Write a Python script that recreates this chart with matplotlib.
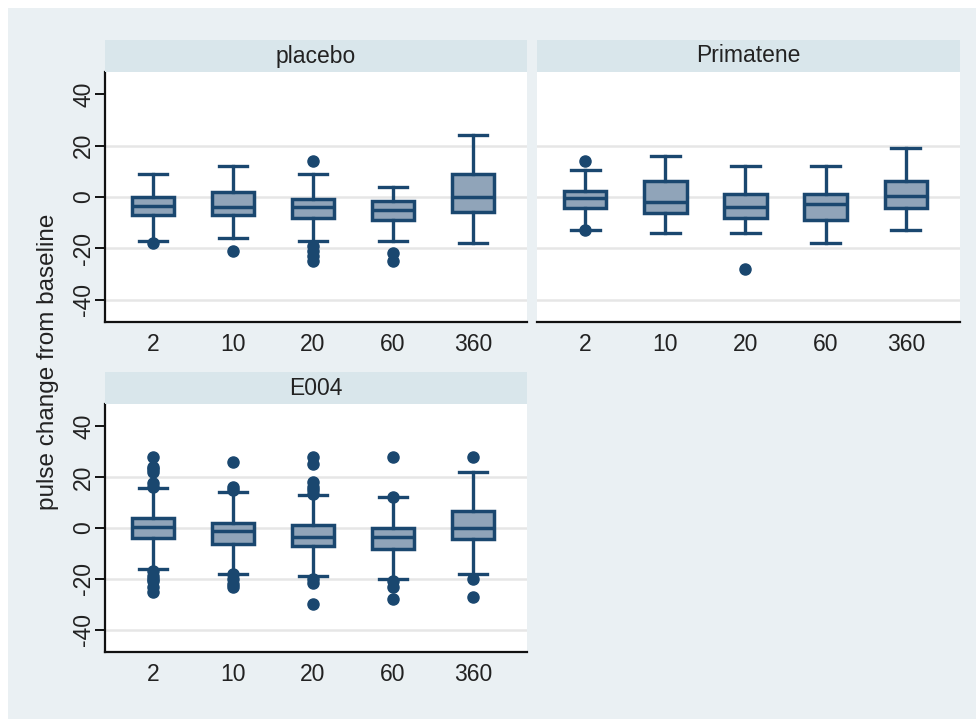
import matplotlib
matplotlib.use("Agg")
import matplotlib.pyplot as plt
from matplotlib.patches import Rectangle

plt.rcParams['font.family'] = ['Liberation Sans', 'DejaVu Sans']

# time points (minutes) on the x axis
times = ["2", "10", "20", "60", "360"]

# five-number summaries per treatment: lower whisker, Q1, median, Q3, upper whisker
placebo_whislo = [-17, -16, -17, -17, -18]
placebo_q1 = [-7, -7, -8, -9, -6]
placebo_med = [-3.6, -3.9, -3.9, -4.9, 0]
placebo_q3 = [0, 2, -0.7, -1.5, 9]
placebo_whishi = [9, 12, 9, 4, 24]
placebo_out = [[-18], [-21], [14, -19, -21, -23, -25], [-22, -25], []]

primatene_whislo = [-13, -14, -14, -18, -13]
primatene_q1 = [-4.1, -6.2, -8.3, -9, -4.3]
primatene_med = [-0.4, -2.1, -3.9, -2.7, 0.5]
primatene_q3 = [2.2, 6.3, 1.2, 1.2, 6.3]
primatene_whishi = [10.5, 16, 12, 12, 19]
primatene_out = [[14, -13], [], [-28], [], []]

e004_whislo = [-16, -18, -19, -20, -18]
e004_q1 = [-4, -6.2, -7.2, -8.3, -4.3]
e004_med = [0.3, -1.2, -3.7, -3.7, 0]
e004_q3 = [4.1, 2, 1.2, 0, 6.7]
e004_whishi = [15.7, 14, 13, 12, 22]
e004_out = [[28, 24, 23, 22, 17.5, 16, -17, -19, -20, -21, -23, -25],
            [26, 16, 15, -18, -20, -22, -23],
            [28, 25, 18, 16, 15, 13.5, -20, -21.5, -30],
            [28, 12, -21, -23, -28],
            [28, -20, -27]]

panel_titles = ["placebo", "Primatene", "E004"]
yticks = [-40, -20, 0, 20, 40]

NAVY = "#1a476f"
FILL = "#90a4b9"
GRID = "#e6e6e6"
STRIP = "#d9e6eb"
BG = "#eaf0f3"
TXT = "#222222"
FS = 16.5

W, H = 976, 719
fig = plt.figure(figsize=(W / 100, H / 100), dpi=100)
fig.patch.set_facecolor("white")
fig.patches.append(Rectangle((8 / W, 0), 1 - 8 / W, 1 - 8 / H, transform=fig.transFigure,
                             facecolor=BG, edgecolor="none", zorder=-10))


def px_rect(x0, y0, x1, y1):
    return [x0 / W, 1 - y1 / H, (x1 - x0) / W, (y1 - y0) / H]


panels = [
    (placebo_whislo, placebo_q1, placebo_med, placebo_q3, placebo_whishi, placebo_out),
    (primatene_whislo, primatene_q1, primatene_med, primatene_q3, primatene_whishi, primatene_out),
    (e004_whislo, e004_q1, e004_med, e004_q3, e004_whishi, e004_out),
]
boxes_px = [(105, 72, 527, 322), (537, 72, 960, 322), (105, 404, 527, 652)]
show_y = [True, False, True]

for (lo, q1, med, q3, hi, out), (x0, y0, x1, y1), title, sy in zip(panels, boxes_px, panel_titles, show_y):
    ax = fig.add_axes(px_rect(x0, y0, x1, y1))
    ax.set_facecolor("white")
    stats = []
    for i in range(len(times)):
        stats.append(dict(whislo=lo[i], q1=q1[i], med=med[i], q3=q3[i], whishi=hi[i],
                          fliers=out[i], label=times[i]))
    ax.bxp(stats, positions=range(1, len(times) + 1), widths=0.53, capwidths=0.36,
           patch_artist=True, showfliers=True,
           boxprops=dict(facecolor=FILL, edgecolor=NAVY, linewidth=2.5),
           medianprops=dict(color=NAVY, linewidth=2.5),
           whiskerprops=dict(color=NAVY, linewidth=2.4),
           capprops=dict(color=NAVY, linewidth=2.4),
           flierprops=dict(marker="o", markerfacecolor=NAVY, markeredgecolor=NAVY,
                           markersize=8, linestyle="none"))
    ax.set_xlim(0.4, 5.675)
    ax.set_ylim(-48.7, 48.7)
    for g in [-40, -20, 0, 20]:
        ax.axhline(g, color=GRID, linewidth=1.8, zorder=0)
    for s in ["top", "right"]:
        ax.spines[s].set_visible(False)
    ax.spines["bottom"].set_color("#111111")
    ax.spines["bottom"].set_linewidth(1.6)
    ax.tick_params(axis="x", length=0, pad=8, labelsize=FS, labelcolor=TXT)
    if sy:
        ax.spines["left"].set_color("#111111")
        ax.spines["left"].set_linewidth(1.6)
        ax.set_yticks(yticks)
        ax.set_yticklabels([str(v) for v in yticks], rotation=90, va="center")
        ax.tick_params(axis="y", length=7, width=1.4, color="#111111", pad=0,
                       labelsize=FS, labelcolor=TXT)
    else:
        ax.spines["left"].set_visible(False)
        ax.set_yticks([])
    # strip header above the panel
    sax = fig.add_axes(px_rect(x0, y0 - 32, x1, y0))
    sax.set_facecolor(STRIP)
    sax.set_xticks([])
    sax.set_yticks([])
    for s in sax.spines.values():
        s.set_visible(False)
    sax.text(0.5, 0.5, title, ha="center", va="center", fontsize=FS, color=TXT,
             transform=sax.transAxes)

fig.text(48 / W, 1 - 362 / H, "pulse change from baseline", rotation=90,
         ha="center", va="center", fontsize=17.5, color=TXT)

fig.savefig("out.png", dpi=100, facecolor=fig.get_facecolor())
